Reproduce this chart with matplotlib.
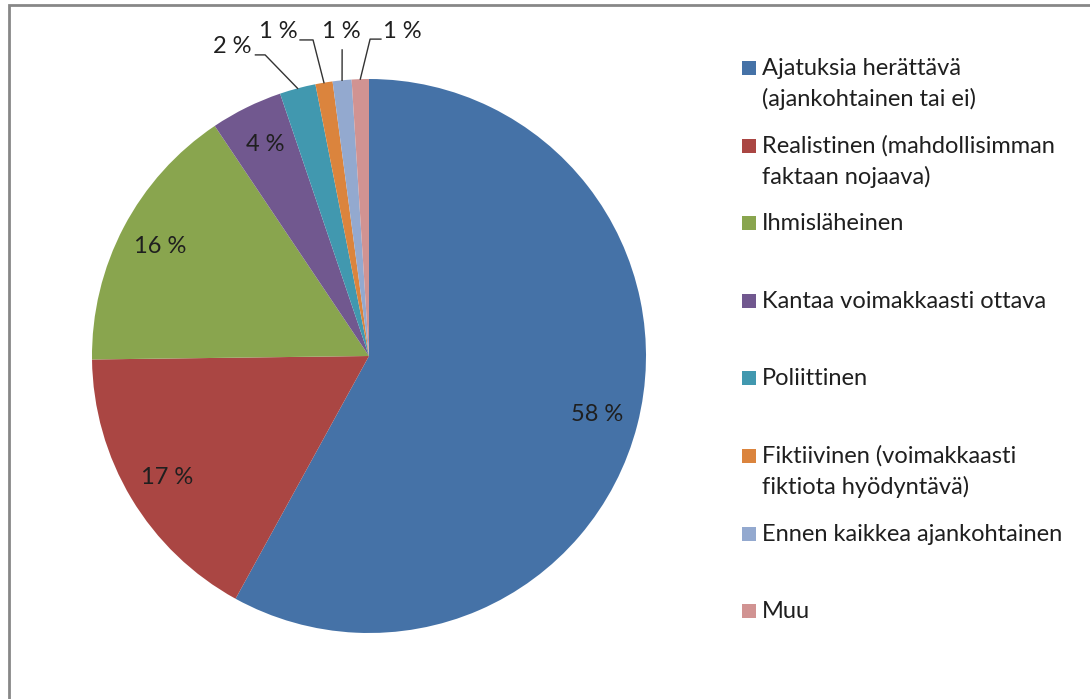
import numpy as np
import matplotlib
matplotlib.use("Agg")
import matplotlib.pyplot as plt
from matplotlib.patches import Rectangle

plt.rcParams['font.family'] = ['Lato', 'DejaVu Sans']

categories = [
    "Ajatuksia herättävä\n(ajankohtainen tai ei)",
    "Realistinen (mahdollisimman\nfaktaan nojaava)",
    "Ihmisläheinen",
    "Kantaa voimakkaasti ottava",
    "Poliittinen",
    "Fiktiivinen (voimakkaasti\nfiktiota hyödyntävä)",
    "Ennen kaikkea ajankohtainen",
    "Muu",
]
shares = [58.0, 16.8, 15.8, 4.2, 2.1, 1.0, 1.1, 1.0]
colors = ["#4572A7", "#AA4643", "#89A54E", "#71588F",
          "#4198AF", "#DB843D", "#93A9CF", "#D19392"]

# label text centre + elbow of the leader line for the thin slices (pie units)
outer_labels = {
    4: ((-0.495, 1.116), [(-0.41, 1.087), (-0.375, 1.087)]),
    5: ((-0.329, 1.170), [(-0.249, 1.141), (-0.202, 1.141)]),
    6: ((-0.101, 1.170), [(-0.097, 1.105)]),
    7: ((0.119, 1.170), [(0.043, 1.144), (0.004, 1.144)]),
}

W, H = 1090, 699
fig = plt.figure(figsize=(W / 100, H / 100), dpi=100)

# outer frame (runs off the right and bottom edges)
fig.patches.append(Rectangle((9 / W, -0.1), 1.2, (H - 5) / H + 0.1, transform=fig.transFigure,
                             fill=False, edgecolor="#878787", linewidth=2))

ax = fig.add_axes([92 / W, 66 / H, 554 / W, 554 / H])
wedges, _ = ax.pie(shares, colors=colors, startangle=90, counterclock=False,
                   wedgeprops=dict(linewidth=0))
ax.set_xlim(-1, 1)
ax.set_ylim(-1, 1)
ax.set_aspect('equal')
ax.axis('off')

fs = 17
txt_color = "#1f1f1f"
cum = 0.0
for i, v in enumerate(shares):
    mid = np.deg2rad(90 - 360 * (cum + v / 2) / 100)
    cum += v
    label = f"{v:.0f} %"
    if i in outer_labels:
        (tx, ty), elbow = outer_labels[i]
        ax.text(tx, ty, label, ha='center', va='center', fontsize=fs, color=txt_color, clip_on=False)
        pts = elbow + [(np.cos(mid), np.sin(mid))]
        ax.plot([p[0] for p in pts], [p[1] for p in pts], color="#333333", lw=1, clip_on=False)
    else:
        r = 0.85
        ax.text(r * np.cos(mid), r * np.sin(mid), label, ha='center', va='center',
                fontsize=fs, color=txt_color)

# legend drawn by hand so markers align with the first line
y0 = H - 75
step = 77.6
pitch = 31
for i, (lab, c) in enumerate(zip(categories, colors)):
    yb = y0 - i * step
    fig.patches.append(Rectangle((742 / W, yb / H), 14 / W, 14 / H, transform=fig.transFigure,
                                 facecolor=c, edgecolor='none'))
    for k, line in enumerate(lab.split("\n")):
        fig.text(762 / W, (yb - k * pitch) / H, line, ha='left', va='baseline',
                 fontsize=fs, color=txt_color)

fig.savefig("out.png", dpi=100)
